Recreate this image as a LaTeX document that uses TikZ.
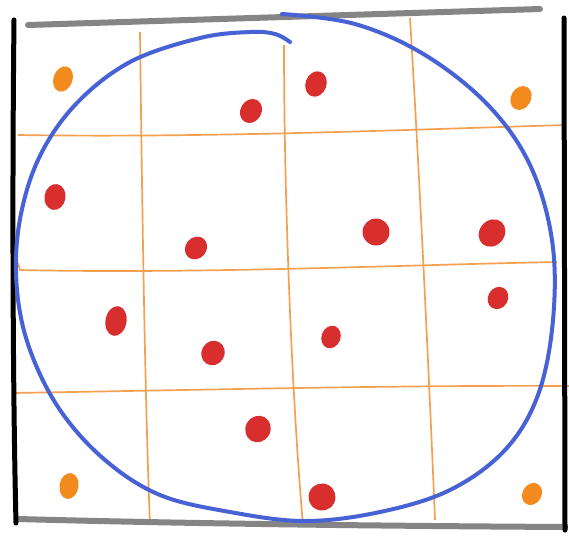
\documentclass[tikz,border=0pt]{standalone}
\usetikzlibrary{shapes.geometric}
\definecolor{blueC}{HTML}{4762D4}
\definecolor{gridC}{HTML}{F5A050}
\definecolor{orangeC}{HTML}{F28A1E}
\definecolor{redC}{HTML}{D92E2E}
\definecolor{grayC}{HTML}{858585}
\tikzset{
  sideline/.style={line width=5pt, black, line cap=round},
  capline/.style={line width=6pt, grayC, line cap=round},
  gridline/.style={line width=1.7pt, gridC},
  circline/.style={line width=4pt, blueC, line cap=round},
  reddot/.style={ellipse, fill=redC, minimum width=21pt, minimum height=26pt, inner sep=0pt},
  orgdot/.style={ellipse, fill=orangeC, minimum width=19pt, minimum height=26pt, inner sep=0pt},
}
\begin{document}
\begin{tikzpicture}[x=1pt,y=-1pt]
\useasboundingbox (0,0) rectangle (569,535);
\fill[white] (0,0) rectangle (569,535);
% grid
\draw[gridline] (18,135) .. controls (200,138) and (400,130) .. (565,125);
\draw[gridline] (18,263) -- (20,270) .. controls (200,274) and (400,265) .. (557,262);
\draw[gridline] (12,393) .. controls (200,390) and (400,385) .. (569,386);
\draw[gridline] (140,32) .. controls (142,200) and (145,400) .. (150,525);
\draw[gridline] (284,45) .. controls (284,200) and (292,400) .. (303,525);
\draw[gridline] (410,18) .. controls (418,150) and (428,350) .. (435,520);
% frame
\draw[capline] (28,25) -- (540,9);
\draw[capline] (18,519) .. controls (200,524) and (400,526) .. (565,527);
\draw[sideline] (14,20) .. controls (12,200) and (13,400) .. (16,523);
\draw[sideline] (564,18) -- (565,530);
% blue loop
\draw[circline] plot[smooth, tension=0.6] coordinates {
 (290,42) (275,34) (250,32) (200,38) (130,62) (75,105) (38,160) (19,225) (17,290) (30,350)
 (60,410) (105,460) (160,495) (230,512) (305,521) (380,512) (450,490) (505,450)
 (538,395) (553,320) (552,240) (530,165) (488,105) (425,55) (355,24) (282,14)};
% red dots
\node[reddot, rotate=-20] (r1) at (316,84) {};
\node[reddot, rotate=-30, minimum width=21pt, minimum height=25pt] (r2) at (251,111) {};
\node[reddot, rotate=-10] (r3) at (55,197) {};
\node[reddot, rotate=-40, minimum height=24pt] (r4) at (196,248) {};
\node[reddot, minimum width=27pt, minimum height=27pt] (r5) at (376,232) {};
\node[reddot, rotate=-40, minimum width=25pt, minimum height=29pt] (r6) at (492,233) {};
\node[reddot, rotate=-30, minimum width=20pt, minimum height=23pt] (r7) at (498,298) {};
\node[reddot, rotate=-10, minimum width=21pt, minimum height=30pt] (r8) at (116,321) {};
\node[reddot, rotate=-30, minimum width=23pt, minimum height=25pt] (r9) at (213,353) {};
\node[reddot, rotate=-20, minimum width=19pt, minimum height=23pt] (r10) at (331,337) {};
\node[reddot, rotate=-30, minimum width=25pt, minimum height=27pt] (r11) at (258,429) {};
\node[reddot, rotate=-30, minimum width=27pt, minimum height=27pt] (r12) at (322,497) {};
% orange dots
\node[orgdot, rotate=-20] (o1) at (63,79) {};
\node[orgdot, rotate=-30, minimum width=20pt, minimum height=25pt] (o2) at (521,98) {};
\node[orgdot, rotate=-10] (o3) at (69,486) {};
\node[orgdot, rotate=-30, minimum width=19pt, minimum height=23pt] (o4) at (532,494) {};
\end{tikzpicture}
\end{document}
